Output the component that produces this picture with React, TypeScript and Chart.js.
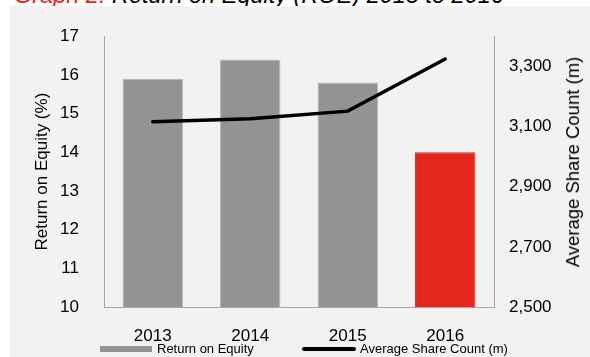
import React, { useEffect, useRef } from 'react';
import { Chart, registerables } from 'chart.js';
Chart.register(...registerables);

const years = ['2013', '2014', '2015', '2016'];
const roe = [15.9, 16.4, 15.8, 14.0];
const shareCount = [3116, 3126, 3151, 3324];
const roeTicks = [10, 11, 12, 13, 14, 15, 16, 17];
const shareTicks = [2500, 2700, 2900, 3100, 3300];
const barColors = ['#939393', '#939393', '#939393', '#e5261c'];
const barBorders = ['#b8b8b8', '#b8b8b8', '#b8b8b8', '#e5261c'];

const FONT = "'Liberation Sans', Arial, sans-serif";

export default function App() {
  const ref = useRef<HTMLCanvasElement | null>(null);

  useEffect(() => {
    if (!ref.current) return;
    Chart.defaults.font.family = FONT;
    const chart = new Chart(ref.current, {
      type: 'bar',
      data: {
        labels: years,
        datasets: [
          {
            type: 'line',
            label: 'Average Share Count (m)',
            data: shareCount,
            yAxisID: 'y1',
            borderColor: '#000',
            backgroundColor: '#000',
            borderWidth: 3.5,
            pointRadius: 0,
            tension: 0,
            borderCapStyle: 'round',
            order: 0,
          } as any,
          {
            type: 'bar',
            label: 'Return on Equity',
            data: roe,
            yAxisID: 'y',
            backgroundColor: barColors,
            borderColor: barBorders,
            borderWidth: 1,
            barPercentage: 0.62,
            categoryPercentage: 1,
            order: 1,
          } as any,
        ],
      },
      options: {
        responsive: false,
        animation: false,
        devicePixelRatio: 1,
        layout: { padding: { top: 0, left: 0, right: 0, bottom: 0 } },
        plugins: { legend: { display: false }, tooltip: { enabled: false } },
        scales: {
          x: {
            grid: { display: false },
            border: { display: true, color: '#a6a6a6', width: 1 },
            ticks: { color: '#000', font: { size: 17 }, padding: 11 },
            afterFit: (s: any) => { s.height = 50; },
          },
          y: {
            position: 'left',
            min: 10,
            max: 17,
            grid: { display: false, drawTicks: false },
            border: { display: true, color: '#a6a6a6', width: 1 },
            ticks: { color: '#000', font: { size: 17 }, padding: 25 },
            afterBuildTicks: (s: any) => { s.ticks = roeTicks.map((v) => ({ value: v })); },
            title: { display: true, text: 'Return on Equity (%)', color: '#000', font: { size: 17 }, padding: { top: 22, bottom: 0 } },
            afterFit: (s: any) => { s.width = 94; },
          },
          y1: {
            position: 'right',
            min: 2500,
            max: 3400,
            grid: { display: false, drawTicks: false },
            border: { display: true, color: '#a6a6a6', width: 1 },
            ticks: {
              color: '#000',
              font: { size: 17 },
              padding: 15,
              callback: (v: any) => Number(v).toLocaleString('en-US'),
            },
            afterBuildTicks: (s: any) => { s.ticks = shareTicks.map((v) => ({ value: v })); },
            afterFit: (s: any) => { s.width = 96; },
          },
        },
      },
    });
    return () => chart.destroy();
  }, []);

  return (
    <div style={{ position: 'fixed', left: 0, top: 0, width: 590, height: 357, background: '#fff', overflow: 'hidden', fontFamily: FONT }}>
      <div style={{ position: 'absolute', left: 14, top: -16, fontSize: 23.5, lineHeight: '23.5px', fontStyle: 'italic', whiteSpace: 'nowrap', color: '#000' }}>
        <span style={{ color: '#e5261c' }}>Graph 2:</span> Return on Equity (ROE) 2013 to 2016
      </div>
      <div style={{ position: 'absolute', left: 10, top: 6, width: 580, height: 351, background: '#f2f2f2' }}>
        <canvas ref={ref} width={580} height={356} style={{ position: 'absolute', left: 0, top: -5, display: 'block', width: 580, height: 356 }} />
        <div style={{ position: 'absolute', left: 563, top: 155.5, transform: 'translate(-50%, -50%) rotate(-90deg)', fontSize: 18.5, lineHeight: '22px', color: '#000', whiteSpace: 'nowrap' }}>Average Share Count (m)</div>
        <div style={{ position: 'absolute', left: 90, top: 340, width: 52, height: 6, background: '#939393' }} />
        <div style={{ position: 'absolute', left: 147, top: 335, fontSize: 13, lineHeight: '16px', color: '#000', whiteSpace: 'nowrap' }}>Return on Equity</div>
        <div style={{ position: 'absolute', left: 292, top: 341, width: 54, height: 4, background: '#000', borderRadius: 2 }} />
        <div style={{ position: 'absolute', left: 350, top: 335, fontSize: 13, lineHeight: '16px', color: '#000', whiteSpace: 'nowrap' }}>Average Share Count (m)</div>
      </div>
    </div>
  );
}
